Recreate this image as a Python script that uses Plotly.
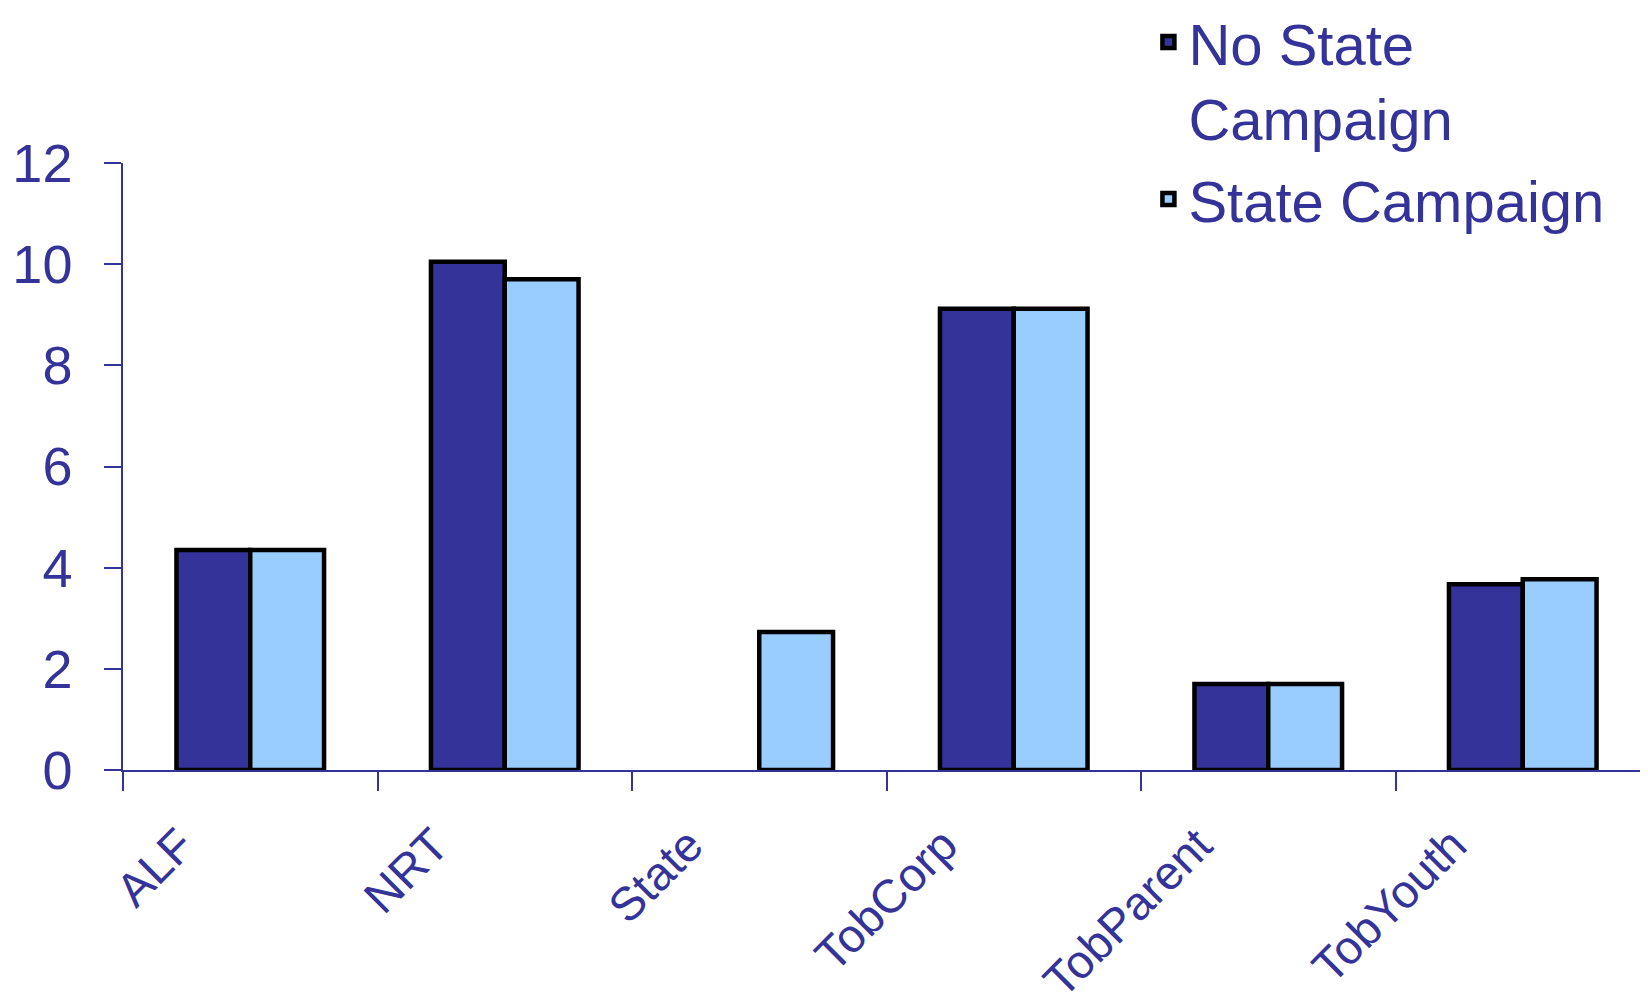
import plotly.graph_objects as go

categories = ["ALF", "NRT", "State", "TobCorp", "TobParent", "TobYouth"]
no_state = [4.35, 10.05, None, 9.12, 1.7, 3.67]
state = [4.35, 9.7, 2.73, 9.12, 1.7, 3.77]
y_ticks = [0, 2, 4, 6, 8, 10, 12]

DARK = "#333399"
LIGHT = "#99CCFF"
TXT = "#333399"
FONT = "Liberation Sans, Arial, sans-serif"

fig = go.Figure()
fig.add_trace(go.Bar(x=categories, y=no_state, name="No State<br>Campaign",
                     marker=dict(color=DARK, line=dict(color="black", width=4.5)),
                     legendgroup="a"))
fig.add_trace(go.Bar(x=categories, y=state, name="State Campaign",
                     marker=dict(color=LIGHT, line=dict(color="black", width=4.5)),
                     legendgroup="b"))

fig.update_layout(
    width=1648, height=1005,
    margin=dict(l=115, r=6, t=155, b=243, autoexpand=False),
    paper_bgcolor="white", plot_bgcolor="white",
    barmode="group", bargap=0.42, bargroupgap=0,
    font=dict(family=FONT, color=TXT),
    showlegend=True,
    legend=dict(xref="container", yref="paper", x=0.692, y=1.272,
                xanchor="left", yanchor="top", valign="top",
                font=dict(size=58, color=TXT, family=FONT),
                traceorder="grouped", tracegroupgap=3,
                bgcolor="rgba(0,0,0,0)"),
    xaxis=dict(type="category", showline=True, linecolor=TXT, linewidth=1.5,
               ticks="outside", tickson="boundaries", ticklen=19, tickcolor=TXT,
               tickwidth=1.5, tickangle=-45, ticklabelshift=-70, ticklabelstandoff=27,
               tickfont=dict(size=47, color=TXT, family=FONT),
               showgrid=False, zeroline=False),
    yaxis=dict(range=[0, 12], tickvals=y_ticks, showline=True, linecolor=TXT,
               linewidth=1.5, ticks="outside", ticklen=17, tickcolor=TXT, tickwidth=1.5,
               tickfont=dict(size=54, color=TXT, family=FONT), ticklabelstandoff=21,
               showgrid=False, zeroline=False),
)

fig.write_html("out.html")
